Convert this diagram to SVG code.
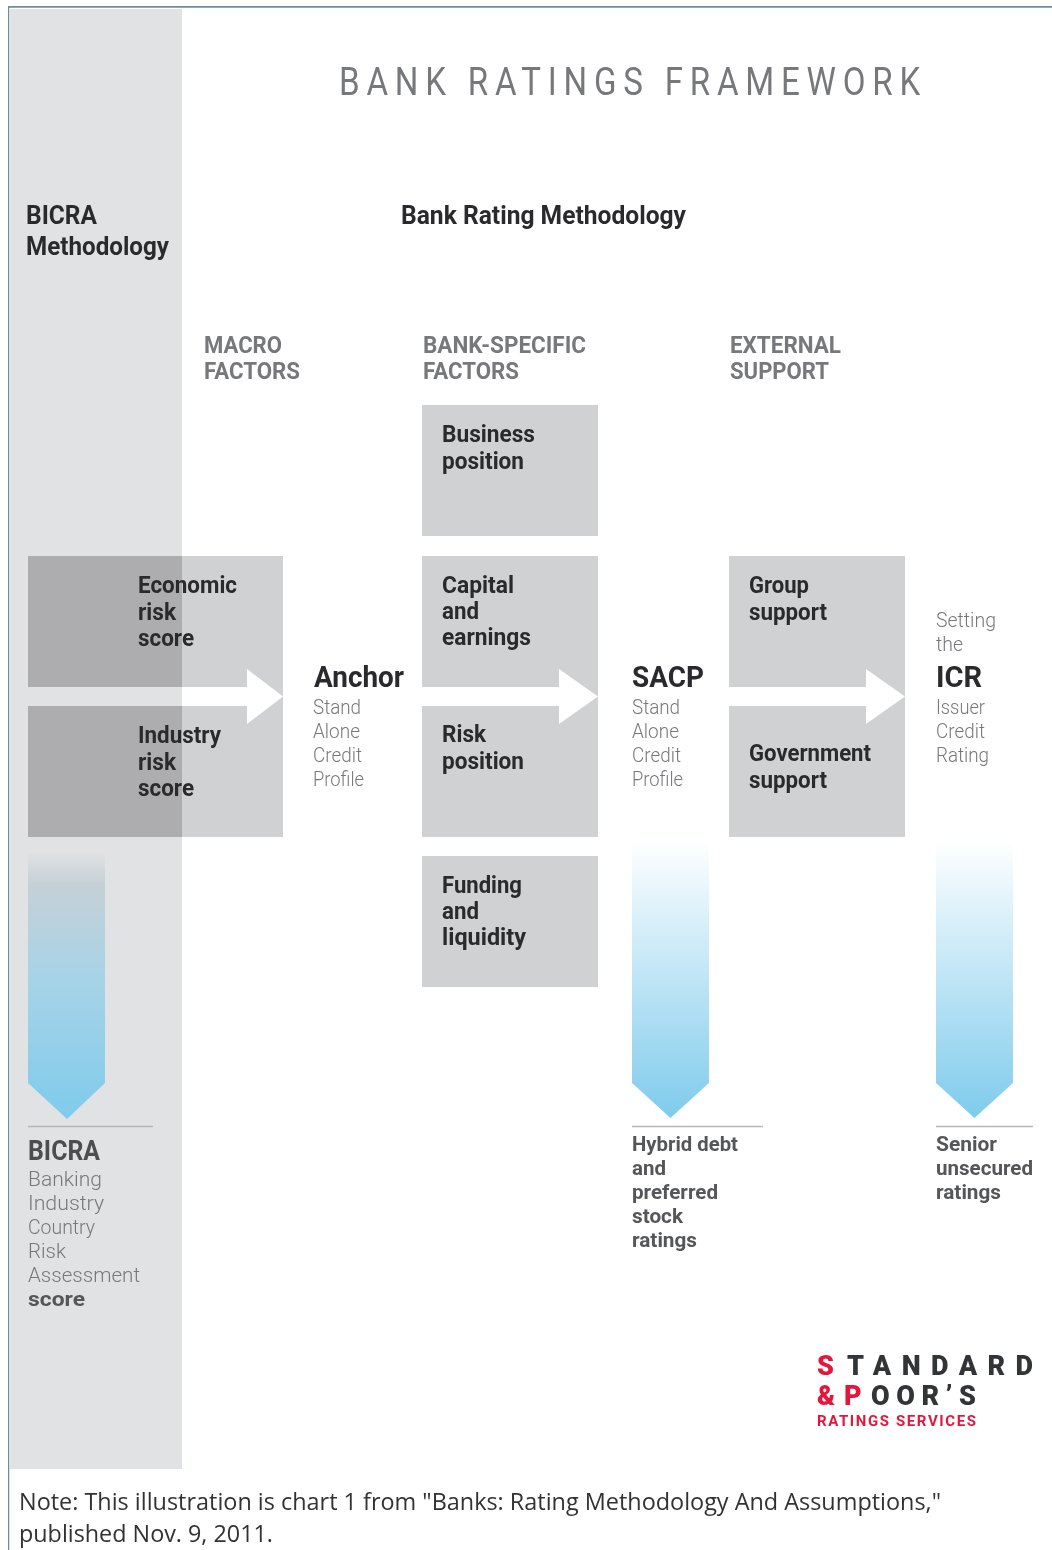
<svg xmlns="http://www.w3.org/2000/svg" width="1052" height="1550" viewBox="0 0 1052 1550">
<style>
text{font-family:"Roboto","Liberation Sans",sans-serif}
.b{font-weight:700;fill:#2c2c2e;font-size:23px}
.h{font-weight:700;fill:#77787b;font-size:24px}
.l{font-weight:300;fill:#77787b;font-size:21px}
.t{font-weight:700;fill:#2c2c2e;font-size:30px}
.m{font-weight:700;fill:#2c2c2e;font-size:26px}
.r{font-weight:700;fill:#55565a;font-size:21px}
.s{fill:#d0d1d2}.w{fill:#fff}
.k{stroke:#b5b6b8;stroke-width:1.5;fill:none}
.lg{font-family:"Roboto","Liberation Sans",sans-serif;font-weight:900;font-size:27px}
</style>
<defs>
<linearGradient id="gw" x1="0" y1="0" x2="0" y2="1"><stop offset="0" stop-color="#fff"/><stop offset=".3" stop-color="#d8eff9"/><stop offset="1" stop-color="#7fcbec"/></linearGradient>
<linearGradient id="gg" x1="0" y1="0" x2="0" y2="1"><stop offset="0" stop-color="#dfe1e3"/><stop offset=".12" stop-color="#c5d0d6"/><stop offset=".45" stop-color="#a9d3e6"/><stop offset="1" stop-color="#7fcbec"/></linearGradient>
<filter id="soft" x="0" y="0" width="100%" height="100%"><feGaussianBlur stdDeviation="0.45"/></filter>
</defs>
<rect width="1052" height="1550" fill="#fff"/>
<g filter="url(#soft)">
<path d="M8 1552V6.500H1054" fill="none" stroke="#6f8ba0" stroke-width="2.500"/>
<rect id="bicra-band" x="10" y="9" width="172" height="1460" fill="#e1e2e3"/>
<text x="339" y="95" textLength="588" lengthAdjust="spacingAndGlyphs" font-size="39" letter-spacing="8" fill="#77787b" font-weight="400">BANK RATINGS FRAMEWORK</text>
<g id="bicra-head">
<text class="m" x="26" y="224" textLength="71" lengthAdjust="spacingAndGlyphs">BICRA</text>
<text class="m" x="26" y="255" textLength="143" lengthAdjust="spacingAndGlyphs">Methodology</text>
</g>
<text id="brm-head" class="m" x="401" y="224" textLength="285" lengthAdjust="spacingAndGlyphs">Bank Rating Methodology</text>
<g id="col-heads">
<text class="h" x="204" y="353" textLength="78" lengthAdjust="spacingAndGlyphs">MACRO</text>
<text class="h" x="204" y="379" textLength="96" lengthAdjust="spacingAndGlyphs">FACTORS</text>
<text class="h" x="423" y="353" textLength="163" lengthAdjust="spacingAndGlyphs">BANK-SPECIFIC</text>
<text class="h" x="423" y="379" textLength="96" lengthAdjust="spacingAndGlyphs">FACTORS</text>
<text class="h" x="730" y="353" textLength="111" lengthAdjust="spacingAndGlyphs">EXTERNAL</text>
<text class="h" x="730" y="379" textLength="99" lengthAdjust="spacingAndGlyphs">SUPPORT</text>
</g>
<g id="macro-boxes">
<rect class="s" x="28" y="556" width="255" height="281"/>
<rect x="28" y="556" width="154" height="131" fill="#adadb0"/>
<rect x="28" y="706" width="154" height="131" fill="#adadb0"/>
<rect x="28" y="687" width="154" height="19" fill="#e1e2e3"/>
<path d="M182 687H247V669L283 696.500 247 724V706H182Z" fill="#fff"/>
</g>
<g id="economic"><text class="b" x="138" y="593" textLength="99" lengthAdjust="spacingAndGlyphs">Economic</text><text class="b" x="138" y="620" textLength="38" lengthAdjust="spacingAndGlyphs">risk</text><text class="b" x="138" y="646" textLength="56" lengthAdjust="spacingAndGlyphs">score</text></g>
<g id="industry"><text class="b" x="138" y="743" textLength="83" lengthAdjust="spacingAndGlyphs">Industry</text><text class="b" x="138" y="770" textLength="38" lengthAdjust="spacingAndGlyphs">risk</text><text class="b" x="138" y="796" textLength="56" lengthAdjust="spacingAndGlyphs">score</text></g>
<g id="anchor"><text class="t" x="314" y="687" textLength="90" lengthAdjust="spacingAndGlyphs">Anchor</text><text class="l" x="313" y="714" textLength="48" lengthAdjust="spacingAndGlyphs">Stand</text><text class="l" x="313" y="738" textLength="47" lengthAdjust="spacingAndGlyphs">Alone</text><text class="l" x="313" y="762" textLength="49" lengthAdjust="spacingAndGlyphs">Credit</text><text class="l" x="313" y="786" textLength="51" lengthAdjust="spacingAndGlyphs">Profile</text></g>
<g id="business"><rect class="s" x="422" y="405" width="176" height="131"/><text class="b" x="442" y="442" textLength="93" lengthAdjust="spacingAndGlyphs">Business</text><text class="b" x="442" y="469" textLength="82" lengthAdjust="spacingAndGlyphs">position</text></g>
<g id="capital"><rect class="s" x="422" y="556" width="176" height="150"/><text class="b" x="442" y="593" textLength="72" lengthAdjust="spacingAndGlyphs">Capital</text><text class="b" x="442" y="619" textLength="37" lengthAdjust="spacingAndGlyphs">and</text><text class="b" x="442" y="645" textLength="89" lengthAdjust="spacingAndGlyphs">earnings</text></g>
<g id="risk"><rect class="s" x="422" y="706" width="176" height="131"/><text class="b" x="442" y="742" textLength="44" lengthAdjust="spacingAndGlyphs">Risk</text><text class="b" x="442" y="769" textLength="82" lengthAdjust="spacingAndGlyphs">position</text></g>
<g id="funding"><rect class="s" x="422" y="856" width="176" height="131"/><text class="b" x="442" y="893" textLength="80" lengthAdjust="spacingAndGlyphs">Funding</text><text class="b" x="442" y="919" textLength="37" lengthAdjust="spacingAndGlyphs">and</text><text class="b" x="442" y="945" textLength="84" lengthAdjust="spacingAndGlyphs">liquidity</text></g>
<g id="sacp"><text class="t" x="632" y="687" textLength="72" lengthAdjust="spacingAndGlyphs">SACP</text><text class="l" x="632" y="714" textLength="48" lengthAdjust="spacingAndGlyphs">Stand</text><text class="l" x="632" y="738" textLength="47" lengthAdjust="spacingAndGlyphs">Alone</text><text class="l" x="632" y="762" textLength="49" lengthAdjust="spacingAndGlyphs">Credit</text><text class="l" x="632" y="786" textLength="51" lengthAdjust="spacingAndGlyphs">Profile</text></g>
<g id="group"><rect class="s" x="729" y="556" width="176" height="150"/><text class="b" x="749" y="593" textLength="60" lengthAdjust="spacingAndGlyphs">Group</text><text class="b" x="749" y="620" textLength="78" lengthAdjust="spacingAndGlyphs">support</text></g>
<g id="government"><rect class="s" x="729" y="706" width="176" height="131"/><text class="b" x="749" y="761" textLength="122" lengthAdjust="spacingAndGlyphs">Government</text><text class="b" x="749" y="788" textLength="78" lengthAdjust="spacingAndGlyphs">support</text></g>
<g id="icr"><text class="l" x="936" y="627" textLength="60" lengthAdjust="spacingAndGlyphs">Setting</text><text class="l" x="936" y="651" textLength="27" lengthAdjust="spacingAndGlyphs">the</text><text class="t" x="936" y="687" textLength="46" lengthAdjust="spacingAndGlyphs">ICR</text><text class="l" x="936" y="714" textLength="49" lengthAdjust="spacingAndGlyphs">Issuer</text><text class="l" x="936" y="738" textLength="49" lengthAdjust="spacingAndGlyphs">Credit</text><text class="l" x="936" y="762" textLength="53" lengthAdjust="spacingAndGlyphs">Rating</text></g>
<g id="connectors">
<path class="w" d="M422 687H559V669L598 696.500 559 724V706H422Z"/>
<path class="w" d="M729 687H866V669L905 696.500 866 724V706H729Z"/>
<path d="M28 853H105V1083L67 1119 28 1083Z" fill="url(#gg)"/>
<path d="M632 840H709V1083L670.500 1118 632 1083Z" fill="url(#gw)"/>
<path d="M936 840H1013V1083L974.500 1118 936 1083Z" fill="url(#gw)"/>
<path class="k" d="M28 1126.500H153M632 1126.500H763M936 1126.500H1033"/>
</g>
<g id="bicra-score">
<text x="28" y="1160" font-size="27" font-weight="700" fill="#4c4d4f" textLength="72" lengthAdjust="spacingAndGlyphs">BICRA</text>
<text class="l" x="28" y="1186" textLength="74" lengthAdjust="spacingAndGlyphs">Banking</text>
<text class="l" x="28" y="1210" textLength="76" lengthAdjust="spacingAndGlyphs">Industry</text>
<text class="l" x="28" y="1234" textLength="67" lengthAdjust="spacingAndGlyphs">Country</text>
<text class="l" x="28" y="1258" textLength="38" lengthAdjust="spacingAndGlyphs">Risk</text>
<text class="l" x="28" y="1282" textLength="112" lengthAdjust="spacingAndGlyphs">Assessment</text>
<text class="r" x="28" y="1306" textLength="57" lengthAdjust="spacingAndGlyphs">score</text>
</g>
<g id="hybrid">
<text class="r" x="632" y="1151" textLength="106" lengthAdjust="spacingAndGlyphs">Hybrid debt</text>
<text class="r" x="632" y="1175" textLength="34" lengthAdjust="spacingAndGlyphs">and</text>
<text class="r" x="632" y="1199" textLength="86" lengthAdjust="spacingAndGlyphs">preferred</text>
<text class="r" x="632" y="1223" textLength="51" lengthAdjust="spacingAndGlyphs">stock</text>
<text class="r" x="632" y="1247" textLength="65" lengthAdjust="spacingAndGlyphs">ratings</text>
</g>
<g id="senior">
<text class="r" x="936" y="1151" textLength="61" lengthAdjust="spacingAndGlyphs">Senior</text>
<text class="r" x="936" y="1175" textLength="97" lengthAdjust="spacingAndGlyphs">unsecured</text>
<text class="r" x="936" y="1199" textLength="65" lengthAdjust="spacingAndGlyphs">ratings</text>
</g>
<g id="logo">
<text class="lg" x="817" y="1375" fill="#e4173e">S</text>
<text class="lg" x="847" y="1375" fill="#333438" textLength="186" lengthAdjust="spacing">TANDARD</text>
<text class="lg" x="817" y="1405" fill="#e4173e">&amp;</text>
<text class="lg" x="844" y="1405" fill="#e4173e">P</text>
<text class="lg" x="871" y="1405" fill="#333438" textLength="105" lengthAdjust="spacing">OOR’S</text>
<text x="817" y="1426" font-weight="700" font-size="15" fill="#e4173e" textLength="159" lengthAdjust="spacing">RATINGS SERVICES</text>
</g>
<g id="note" fill="#333" font-size="24">
<text x="19" y="1510" style="font-family:'Open Sans','Noto Sans',sans-serif" textLength="922" lengthAdjust="spacingAndGlyphs">Note: This illustration is chart 1 from "Banks: Rating Methodology And Assumptions,"</text>
<text x="19" y="1542" style="font-family:'Open Sans','Noto Sans',sans-serif" textLength="254" lengthAdjust="spacingAndGlyphs">published Nov. 9, 2011.</text>
</g>
</g>
</svg>
